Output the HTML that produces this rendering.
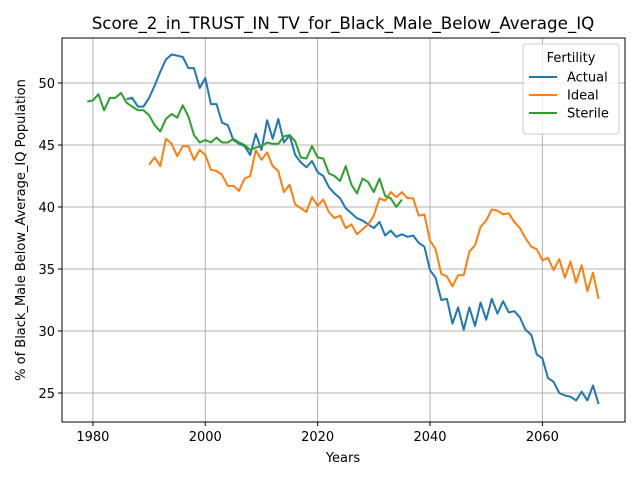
<!DOCTYPE html>
<html><head><meta charset="utf-8"><style>
body{margin:0;background:#fff;font-family:"Liberation Sans","DejaVu Sans",sans-serif;}
svg text{font-family:"DejaVu Sans","Liberation Sans",sans-serif;}
</style></head><body>
<svg id="chart" width="640" height="480" xmlns="http://www.w3.org/2000/svg">
<rect width="640" height="480" fill="#fff"/>
<g id="grid"></g><g id="series"></g><g id="axes"></g>
<text x="343" y="29" text-anchor="middle" font-size="16.7">Score_2_in_TRUST_IN_TV_for_Black_Male_Below_Average_IQ</text>
<text x="343" y="462" text-anchor="middle" font-size="13">Years</text>
<text transform="translate(25,230) rotate(-90)" text-anchor="middle" font-size="13">% of Black_Male Below_Average_IQ Population</text>
<g>
<rect x="523" y="44" width="96" height="90" rx="3" fill="#fff" fill-opacity="0.8" stroke="#ccc"/>
<text x="571" y="62" text-anchor="middle" font-size="13">Fertility</text>
<line x1="529" y1="77" x2="557" y2="77" stroke="#1f77b4" stroke-width="2"/><text x="567" y="81.5" font-size="13">Actual</text>
<line x1="529" y1="95" x2="557" y2="95" stroke="#ff7f0e" stroke-width="2"/><text x="567" y="99.5" font-size="13">Ideal</text>
<line x1="529" y1="113" x2="557" y2="113" stroke="#2ca02c" stroke-width="2"/><text x="567" y="117.5" font-size="13">Sterile</text>
</g>
</svg>
<script>
const actualStart = 1986;
const actualValues = [48.7,48.8,48.1,48.1,48.8,49.8,50.9,51.9,52.3,52.2,52.1,51.2,51.2,49.6,50.4,48.3,48.3,46.8,46.6,45.4,45.1,44.9,44.2,45.9,44.6,47.0,45.5,47.1,45.2,45.8,44.2,43.6,43.2,43.7,42.8,42.5,41.6,41.1,40.7,39.9,39.5,39.1,38.9,38.6,38.3,38.8,37.7,38.1,37.6,37.8,37.6,37.7,37.1,36.8,34.9,34.3,32.5,32.6,30.6,31.9,30.1,31.9,30.4,32.3,30.9,32.6,31.4,32.4,31.5,31.6,31.1,30.1,29.7,28.1,27.8,26.2,25.9,25.0,24.8,24.7,24.4,25.1,24.4,25.6,24.1];
const idealStart = 1990;
const idealValues = [43.4,44.0,43.3,45.5,45.1,44.1,44.9,44.9,43.8,44.6,44.2,43.0,42.9,42.6,41.7,41.7,41.3,42.3,42.5,44.6,43.8,44.4,43.3,42.9,41.2,41.8,40.2,39.9,39.6,40.8,40.1,40.6,39.6,39.1,39.3,38.3,38.6,37.8,38.2,38.6,39.3,40.7,40.5,41.2,40.8,41.2,40.7,40.7,39.3,39.4,37.3,36.6,34.6,34.4,33.6,34.5,34.5,36.4,36.9,38.4,38.9,39.8,39.7,39.4,39.5,38.8,38.3,37.5,36.8,36.6,35.7,35.9,34.9,35.8,34.3,35.6,33.9,35.3,33.2,34.7,32.6];
const sterileStart = 1979;
const sterileValues = [48.5,48.6,49.1,47.8,48.8,48.8,49.2,48.4,48.1,47.8,47.8,47.4,46.6,46.1,47.1,47.5,47.2,48.2,47.3,45.8,45.2,45.4,45.2,45.6,45.2,45.2,45.5,45.2,45.0,44.6,44.8,44.9,45.2,45.1,45.1,45.7,45.8,45.3,44.0,43.9,44.9,44.0,43.9,42.7,42.5,42.1,43.3,41.8,41.1,42.3,42.0,41.2,42.3,40.9,40.7,40.0,40.6];
const xTicks = [1980,2000,2020,2040,2060];
const yTicks = [25,30,35,40,45,50];

const L=62,R=625,T=38,B=422, X0=1974.5,X1=2074.7, Y0=22.66,Y1=53.63;
const sx=v=>L+(v-X0)/(X1-X0)*(R-L);
const sy=v=>B-(v-Y0)/(Y1-Y0)*(B-T);
const NS="http://www.w3.org/2000/svg";
function mk(tag,attrs,parent){const e=document.createElementNS(NS,tag);for(const k in attrs)e.setAttribute(k,attrs[k]);document.getElementById(parent).appendChild(e);return e;}
xTicks.forEach(t=>{
  const g=mk('line',{x1:sx(t),x2:sx(t),y1:T,y2:B,stroke:'#b0b0b0','stroke-width':1},'grid');
  
  
  mk('line',{x1:sx(t),x2:sx(t),y1:B,y2:B+4,stroke:'#000'},'axes');
  const tx=mk('text',{x:sx(t),y:B+19,'text-anchor':'middle','font-size':13},'axes');
  tx.textContent=t;
  
  
});
yTicks.forEach(t=>{
  const g=mk('line',{x1:L,x2:R,y1:sy(t),y2:sy(t),stroke:'#b0b0b0','stroke-width':1},'grid');
  
  
  mk('line',{x1:L-4,x2:L,y1:sy(t),y2:sy(t),stroke:'#000'},'axes');
  const tx=mk('text',{x:L-7,y:sy(t)+5,'text-anchor':'end','font-size':13},'axes');
  tx.textContent=t;
  
  
});
const frame=mk('rect',{x:L,y:T,width:R-L,height:B-T,fill:'none',stroke:'#000','stroke-width':1},'axes');


function line(start,vals,color,name){
  const d=vals.map((v,i)=>(i?'L':'M')+sx(start+i).toFixed(1)+','+sy(v).toFixed(1)).join('');
  const p=mk('path',{d:d,fill:'none',stroke:color,'stroke-width':2,'stroke-linejoin':'round'},'series');
  
  
}
line(actualStart,actualValues,'#1f77b4','actual-line');
line(idealStart,idealValues,'#ff7f0e','ideal-line');
line(sterileStart,sterileValues,'#2ca02c','sterile-line');
</script>
</body></html>
